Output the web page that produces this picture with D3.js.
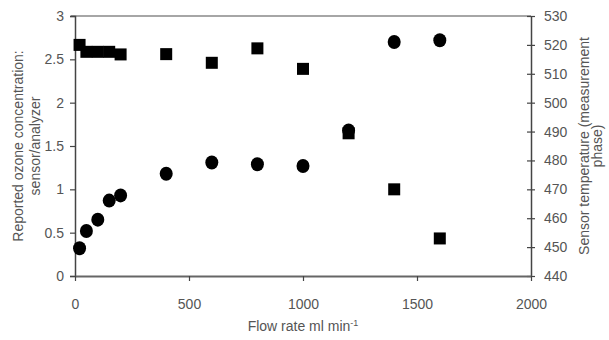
<!DOCTYPE html>
<html>
<head>
<meta charset="utf-8">
<script src="https://cdn.jsdelivr.net/npm/d3@7"></script>
<style>
  body { margin: 0; background: #fff; }
  svg { display: block; font-family: "Liberation Sans", Arial, sans-serif; }
  .tick text { fill: #555; font-size: 14px; }
  .axis-title { fill: #555; font-size: 14px; }
</style>
</head>
<body>
<svg id="chart" width="609" height="340"></svg>
<script>
// flow rate, ml min-1
const flow = [20, 50, 100, 150, 200, 400, 600, 800, 1000, 1200, 1400, 1600];
// reported ozone ratio sensor/analyzer (circles, left axis)
const ozoneRatio = [0.32, 0.52, 0.65, 0.87, 0.93, 1.18, 1.31, 1.29, 1.27, 1.68, 2.70, 2.72];
// sensor temperature (squares, right axis)
const sensorTemp = [520, 517.6, 517.6, 517.6, 516.7, 516.8, 513.8, 518.8, 511.7, 489.4, 470, 453];

const xTicks = [0, 500, 1000, 1500, 2000];
const yLeftTicks = [0, 0.5, 1, 1.5, 2, 2.5, 3];
const yRightTicks = [440, 450, 460, 470, 480, 490, 500, 510, 520, 530];

const margin = { left: 75, right: 78, top: 16, bottom: 64 };
const width = 609, height = 340;

const svg = d3.select('#chart');

const x = d3.scaleLinear().domain([0, 2000]).range([margin.left, width - margin.right]);
const yL = d3.scaleLinear().domain([0, 3]).range([height - margin.bottom, margin.top]);
const yR = d3.scaleLinear().domain([440, 530]).range([height - margin.bottom, margin.top]);

// top border of the plot area
svg.append('line')
    .attr('x1', x(0) - 4).attr('x2', x(2000))
    .attr('y1', yL(3)).attr('y2', yL(3))
    .attr('stroke', '#888').attr('stroke-width', 1.5);

// left axis
const gL = svg.append('g')
    .attr('transform', `translate(${x(0)},0)`)
    .call(d3.axisLeft(yL).tickValues(yLeftTicks).tickSize(5).tickPadding(6).tickFormat(d3.format('')));

// right axis (ticks crossing)
const gR = svg.append('g')
    .attr('transform', `translate(${x(2000)},0)`)
    .call(d3.axisRight(yR).tickValues(yRightTicks).tickSizeInner(4).tickSizeOuter(0).tickPadding(9));
gR.selectAll('.tick line').attr('x1', -4);

// bottom axis
const gX = svg.append('g')
    .attr('transform', `translate(0,${yL(0)})`)
    .call(d3.axisBottom(x).tickValues(xTicks).tickSizeInner(5).tickSizeOuter(0).tickPadding(18).tickFormat(d3.format('d')));

[gL, gR, gX].forEach(g => {
  g.select('.domain').attr('stroke', '#444').attr('stroke-width', 1.5);
  g.selectAll('.tick line').attr('stroke', '#444').attr('stroke-width', 1.2);
});
gX.select('.domain').attr('stroke', '#666').attr('stroke-width', 2);
gX.selectAll('.tick text').attr('dy', '0.71em');

// circles: ozone ratio
svg.append('g').selectAll('ellipse')
  .data(flow.map((f, i) => ({ f, v: ozoneRatio[i] })))
  .enter().append('ellipse')
    .attr('cx', d => x(d.f))
    .attr('cy', d => yL(d.v))
    .attr('rx', 6.5).attr('ry', 7)
    .attr('fill', '#000');

// squares: sensor temperature
const s = 12;
svg.append('g').selectAll('rect')
  .data(flow.map((f, i) => ({ f, v: sensorTemp[i] })))
  .enter().append('rect')
    .attr('x', d => x(d.f) - s / 2)
    .attr('y', d => yR(d.v) - s / 2)
    .attr('width', s).attr('height', s)
    .attr('fill', '#000');

// axis titles
const midY = (yL(0) + yL(3)) / 2;
const leftTitle = svg.append('text')
    .attr('class', 'axis-title')
    .attr('text-anchor', 'middle')
    .attr('transform', `translate(23,${midY}) rotate(-90)`);
leftTitle.append('tspan').attr('x', 0).attr('dy', 0).text('Reported ozone concentration:');
leftTitle.append('tspan').attr('x', 0).attr('dy', 17).text('sensor/analyzer');

const rightTitle = svg.append('text')
    .attr('class', 'axis-title')
    .attr('text-anchor', 'middle')
    .attr('transform', `translate(589,${midY}) rotate(-90)`);
rightTitle.append('tspan').attr('x', 0).attr('dy', 0).text('Sensor temperature (measurement');
rightTitle.append('tspan').attr('x', 0).attr('dy', 13).text('phase)');

const xTitle = svg.append('text')
    .attr('class', 'axis-title')
    .attr('text-anchor', 'middle')
    .attr('x', (x(0) + x(2000)) / 2)
    .attr('y', 331);
xTitle.append('tspan').text('Flow rate ml min');
xTitle.append('tspan').attr('font-size', 9).attr('dy', -5).text('-1');
</script>
</body>
</html>
